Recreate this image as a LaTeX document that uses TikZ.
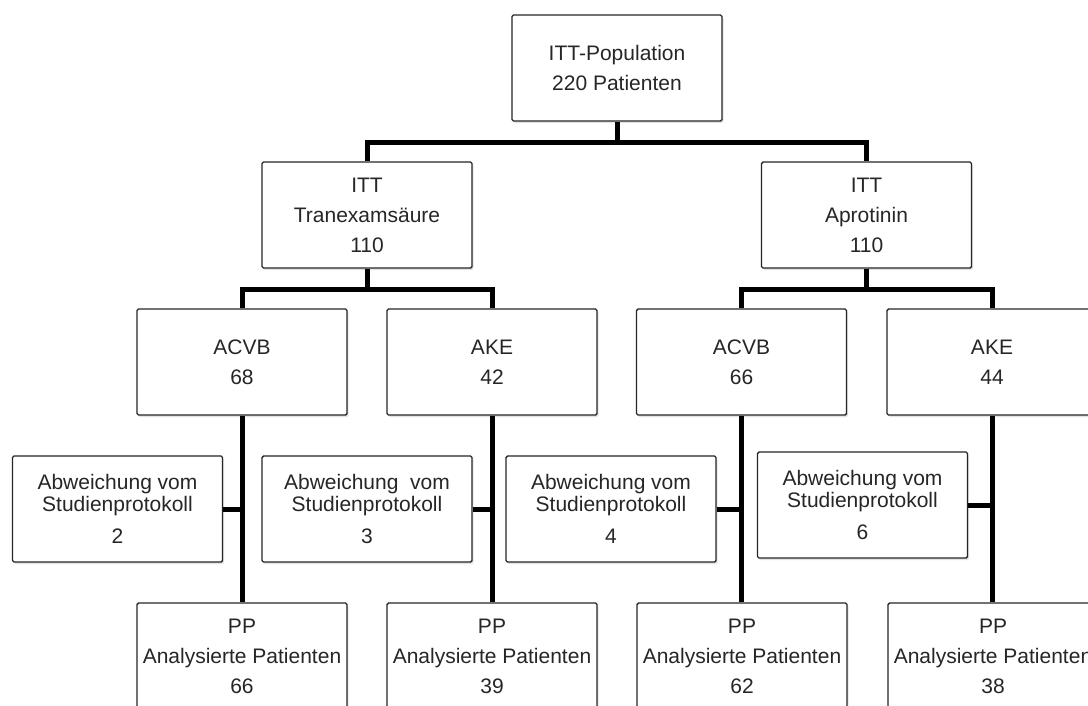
\documentclass[tikz,border=0pt]{standalone}
\usepackage{fontspec}
\setmainfont{Liberation Sans}
\usetikzlibrary{shadows}
\tikzset{
  box/.style={draw=black!85, line width=1.4pt, fill=white, rounded corners=1.5pt,
    minimum width=210pt, minimum height=106pt, inner sep=0pt, align=center,
    font=\fontsize{21}{30}\selectfont, text=black!85,
    drop shadow={shadow xshift=1.5pt, shadow yshift=-2pt, opacity=0.22}},
  conn/.style={line width=5pt, black},
}
\begin{document}
\begin{tikzpicture}[x=1pt,y=-1pt]
\useasboundingbox (0,0) rectangle (1088,705);
\clip (0,0) rectangle (1088,705);
\fill[white] (0,0) rectangle (1088,705);
% level 1
\node[box] (top) at (617,68) {ITT-Population\\220 Patienten};
% level 2
\node[box] (tra) at (367,215) {ITT\\Tranexamsäure\\110};
\node[box] (apr) at (866.5,215) {ITT\\Aprotinin\\110};
% level 3
\node[box] (acvbA) at (242,362) {ACVB\\68};
\node[box] (akeA) at (492,362) {AKE\\42};
\node[box] (acvbB) at (741.5,362) {ACVB\\66};
\node[box] (akeB) at (992,362) {AKE\\44};
% level 4
\node[box] (abw1) at (117.5,509) {Abweichung vom\\[-8pt]Studienprotokoll\\[2pt]2};
\node[box] (abw2) at (367,509) {Abweichung\ \ vom\\[-8pt]Studienprotokoll\\[2pt]3};
\node[box] (abw3) at (611,509) {Abweichung vom\\[-8pt]Studienprotokoll\\[2pt]4};
\node[box] (abw4) at (862.5,505) {Abweichung vom\\[-8pt]Studienprotokoll\\[2pt]6};
% level 5
\node[box] (ppA) at (242,656) {PP\\Analysierte Patienten\\66};
\node[box] (ppB) at (492,656) {PP\\Analysierte Patienten\\39};
\node[box] (ppC) at (742,656) {PP\\Analysierte Patienten\\62};
\node[box] (ppD) at (993,656) {PP\\Analysierte Patienten\\38};
% connectors
\coordinate (b1) at (617,142);
\coordinate (b2) at (367,289);
\coordinate (b3) at (866.5,289);
\draw[conn] (top.south) -- (b1);
\draw[conn] (tra.north) |- (b1) -| (apr.north);
\draw[conn] (tra.south) -- (b2);
\draw[conn] (acvbA.north) |- (b2) -| (akeA.north);
\draw[conn] (apr.south) -- (b3);
\draw[conn] (acvbB.north) |- (b3) -| (akeB.north);
\draw[conn] (acvbA.south) -- (acvbA.south |- ppA.north);
\draw[conn] (akeA.south) -- (akeA.south |- ppB.north);
\draw[conn] (acvbB.south) -- (acvbB.south |- ppC.north);
\draw[conn] (akeB.south) -- (akeB.south |- ppD.north);
\draw[conn] (abw1.east) -- (abw1.east -| acvbA.south);
\draw[conn] (abw2.east) -- (abw2.east -| akeA.south);
\draw[conn] (abw3.east) -- (abw3.east -| acvbB.south);
\draw[conn] (abw4.east) -- (abw4.east -| akeB.south);
\end{tikzpicture}
\end{document}
